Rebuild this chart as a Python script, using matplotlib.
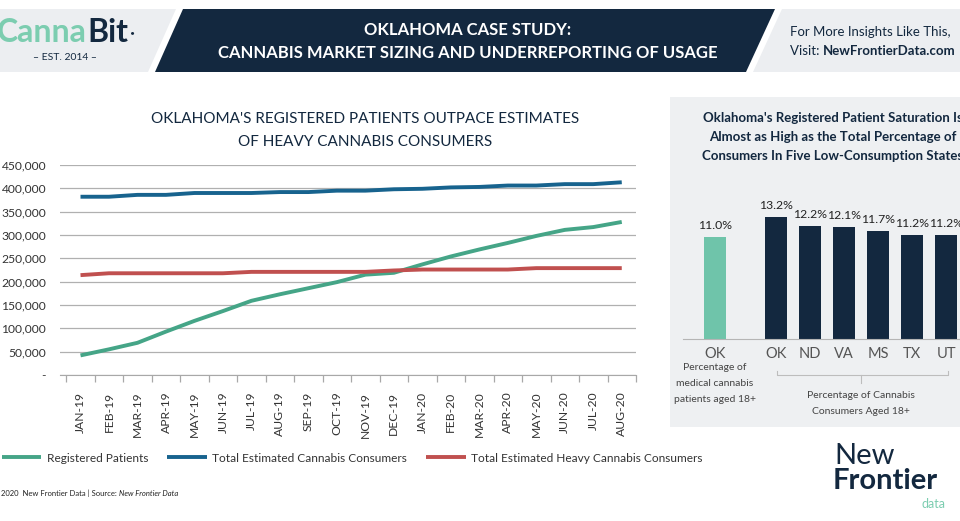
import matplotlib
matplotlib.use("Agg")
import matplotlib.pyplot as plt
from matplotlib.patches import Polygon, Rectangle
from matplotlib.lines import Line2D
from matplotlib.ticker import FuncFormatter, FixedLocator

# Data
months = ['JAN-19', 'FEB-19', 'MAR-19', 'APR-19', 'MAY-19', 'JUN-19', 'JUL-19',
          'AUG-19', 'SEP-19', 'OCT-19', 'NOV-19', 'DEC-19', 'JAN-20', 'FEB-20',
          'MAR-20', 'APR-20', 'MAY-20', 'JUN-20', 'JUL-20', 'AUG-20']
registered_patients = [42000, 55000, 69000, 93000, 116000, 137000, 159000, 173000,
                       186000, 199000, 215000, 219000, 237000, 254000, 269000, 283000,
                       298000, 311000, 317000, 328000]
total_consumers = [382000, 382000, 386000, 386000, 390000, 390000, 390000, 392000,
                   392000, 395000, 395000, 398000, 399000, 402000, 403000, 406000,
                   406000, 409000, 409000, 413000]
heavy_consumers = [214000, 218000, 218000, 218000, 218000, 218000, 221000, 221000,
                   221000, 221000, 221000, 224000, 226000, 226000, 226000, 226000,
                   229000, 229000, 229000, 229000]

bar_states = ['OK', 'OK', 'ND', 'VA', 'MS', 'TX', 'UT']
bar_values = [11.0, 13.2, 12.2, 12.1, 11.7, 11.2, 11.2]

# colours
navy = '#13283f'
teal_line = '#45a587'
blue_line = '#17638e'
red_line = '#c0504f'
teal_bar = '#6fc4aa'
grey_panel = '#eceef1'

W, H = 960, 521
FONT = 'Lato'
plt.rcParams['font.family'] = [FONT, 'DejaVu Sans']


def fx(x):
    return x / W


def fy(y):
    return 1 - y / H


def px_axes(left, top, right, bottom):
    return [fx(left), fy(bottom), (right - left) / W, (bottom - top) / H]


def add_panel(pts):
    fig.patches.append(Polygon([(fx(a), fy(b)) for a, b in pts], closed=True,
                               transform=fig.transFigure, facecolor=grey_panel,
                               edgecolor='none', zorder=-5))


def text_after(prev, s, **kw):
    # put a text right after the end of another one on the same line
    fig.canvas.draw()
    bb = prev.get_window_extent()
    x0 = bb.x1 / fig.dpi / fig.get_figwidth()
    return fig.text(x0, prev.get_position()[1], s, ha='left', va='center', **kw)


fig = plt.figure(figsize=(W / 100, H / 100), dpi=100)
fig.patch.set_facecolor('white')

# ---- header banner ----
add_panel([(0, 9), (176, 9), (148, 72), (0, 72)])
fig.patches.append(Polygon([(fx(183), fy(9)), (fx(775), fy(9)), (fx(746), fy(72)), (fx(155), fy(72))],
                           closed=True, transform=fig.transFigure, facecolor=navy,
                           edgecolor='none', zorder=-4))
add_panel([(782, 9), (960, 9), (960, 72), (753, 72)])

canna = fig.text(fx(-3), fy(33), 'Canna', color='#7ccdb0', fontsize=23, fontweight='bold',
                 ha='left', va='center')
bit = text_after(canna, 'Bit', color=navy, fontsize=23, fontweight='bold')
text_after(bit, ' •', color=navy, fontsize=6)
fig.text(fx(65), fy(58), '– EST. 2014 –', color=navy, fontsize=7.5, ha='center', va='center')

fig.text(fx(468), fy(30), 'OKLAHOMA CASE STUDY:', color='white', fontsize=12,
         fontweight='bold', ha='center', va='center')
fig.text(fx(468), fy(53), 'CANNABIS MARKET SIZING AND UNDERREPORTING OF USAGE', color='white',
         fontsize=12, fontweight='bold', ha='center', va='center')

fig.text(fx(790), fy(32), 'For More Insights Like This,', color=navy, fontsize=9.5,
         ha='left', va='center')
visit = fig.text(fx(790), fy(51), 'Visit: ', color=navy, fontsize=9.5, ha='left', va='center')
text_after(visit, 'NewFrontierData.com', color=navy, fontsize=9.5, fontweight='bold')

# ---- line chart ----
ax = fig.add_axes(px_axes(60, 165, 636, 375))
x = list(range(len(months)))
ax.plot(x, registered_patients, color=teal_line, lw=2.8, solid_capstyle='butt',
        label='Registered Patients')
ax.plot(x, total_consumers, color=blue_line, lw=2.8, solid_capstyle='butt',
        label='Total Estimated Cannabis Consumers')
ax.plot(x, heavy_consumers, color=red_line, lw=2.8, solid_capstyle='butt',
        label='Total Estimated Heavy Cannabis Consumers')

ax.set_ylim(0, 450000)
ax.set_xlim(-0.72, len(months) - 0.5)
ax.set_yticks(range(0, 450001, 50000))
ax.yaxis.set_major_formatter(FuncFormatter(lambda v, p: '-' if v == 0 else f'{int(v):,}'))
ax.grid(axis='y', color='#b0b0b0', lw=0.9)
ax.set_axisbelow(True)
for s in ['top', 'right', 'left']:
    ax.spines[s].set_visible(False)
ax.spines['bottom'].set_color('#a8a8a8')
ax.set_xticks(x)
ax.set_xticklabels(months, rotation=90, fontsize=8.7, color='#333333')
ax.xaxis.set_minor_locator(FixedLocator([i - 0.5 for i in range(len(months) + 1)]))
ax.tick_params(axis='x', which='major', length=0, pad=12)
ax.tick_params(axis='x', which='minor', length=5, color='#a8a8a8', width=0.9)
ax.tick_params(axis='y', length=0, labelsize=8.7, labelcolor='#333333', pad=10)

fig.text(fx(365), fy(119), "OKLAHOMA'S REGISTERED PATIENTS OUTPACE ESTIMATES", color=navy,
         fontsize=11, ha='center', va='center')
fig.text(fx(365), fy(142), 'OF HEAVY CANNABIS CONSUMERS', color=navy,
         fontsize=11, ha='center', va='center')

leg = ax.legend(loc='center left', bbox_to_anchor=(fx(2), fy(458)),
                bbox_transform=fig.transFigure, ncol=3, frameon=False, fontsize=8.6,
                handlelength=3.3, handletextpad=0.45, columnspacing=1.6, borderaxespad=0,
                borderpad=0)
for t in leg.get_texts():
    t.set_color('#333333')

foot = fig.text(fx(1), fy(493), '2020  New Frontier Data | Source: ', color='#222222',
                fontsize=5.5, ha='left', va='center')
text_after(foot, 'New Frontier Data', color='#222222', fontsize=5.5, style='italic')

# ---- right panel: bar chart ----
fig.patches.append(Rectangle((fx(670), fy(427)), (960 - 670) / W, (427 - 97) / H,
                             transform=fig.transFigure, facecolor='#eef0f2',
                             edgecolor='none', zorder=-5))
fig.text(fx(833), fy(118), "Oklahoma's Registered Patient Saturation Is", color=navy,
         fontsize=9.5, fontweight='bold', ha='center', va='center')
fig.text(fx(833), fy(137), 'Almost as High as the Total Percentage of', color=navy,
         fontsize=9.5, fontweight='bold', ha='center', va='center')
fig.text(fx(833), fy(156), 'Consumers In Five Low-Consumption States', color=navy,
         fontsize=9.5, fontweight='bold', ha='center', va='center')

bx = fig.add_axes(px_axes(683, 199, 960, 339))
bar_pos = [0] + [1.8 + i for i in range(len(bar_values) - 1)]
bar_colors = [teal_bar] + [navy] * (len(bar_values) - 1)
bx.bar(bar_pos, bar_values, width=0.65, color=bar_colors)
bx.set_xlim(-0.94, (960 - 715) / 34)
bx.set_ylim(0, 140 / 9.25)
bx.patch.set_visible(False)
for s in ['top', 'right', 'left']:
    bx.spines[s].set_visible(False)
bx.spines['bottom'].set_color('#b5b5b5')
bx.spines['bottom'].set_linewidth(0.8)
bx.set_yticks([])
bx.set_xticks(bar_pos)
bx.set_xticklabels(bar_states, fontsize=10.5, color='#555555')
bx.tick_params(axis='x', length=0, pad=6)
for p, v in zip(bar_pos, bar_values):
    bx.text(p, v + 0.65, f'{v:.1f}%', ha='center', va='bottom', fontsize=8.8, color='#222222')

fig.text(fx(715), fy(368), 'Percentage of', color='#444444', fontsize=7.5, ha='center', va='center')
fig.text(fx(715), fy(384), 'medical cannabis', color='#444444', fontsize=7.5, ha='center', va='center')
fig.text(fx(715), fy(400), 'patients aged 18+', color='#444444', fontsize=7.5, ha='center', va='center')

# bracket under the five-state group
fig.add_artist(Line2D([fx(777), fx(777), fx(948), fx(948)], [fy(371), fy(375), fy(375), fy(371)],
                      transform=fig.transFigure, color='#bdbdbd', lw=0.8))
fig.add_artist(Line2D([fx(861), fx(861)], [fy(375), fy(383)],
                      transform=fig.transFigure, color='#bdbdbd', lw=0.8))
fig.text(fx(861), fy(396), 'Percentage of Cannabis', color='#444444', fontsize=7.5,
         ha='center', va='center')
fig.text(fx(861), fy(412), 'Consumers Aged 18+', color='#444444', fontsize=7.5,
         ha='center', va='center')

# ---- New Frontier Data logo ----
fig.text(fx(834), fy(456), 'New', color=navy, fontsize=21, ha='left', va='center')
fig.text(fx(833), fy(481), 'Frontier', color=navy, fontsize=21, fontweight='bold',
         ha='left', va='center')
fig.text(fx(946), fy(504), 'data', color='#7ccdb0', fontsize=9, ha='right', va='center')

fig.savefig('out.png', dpi=100)
